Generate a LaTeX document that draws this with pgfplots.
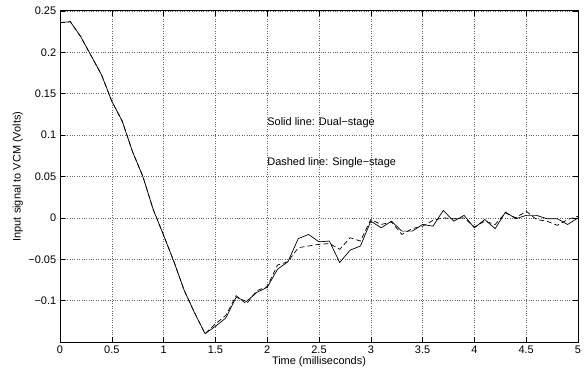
\documentclass[border=0pt]{standalone}
\usepackage{fontspec}
\setmainfont{Liberation Sans}
\usepackage{pgfplots}
\pgfplotsset{compat=1.18}
\usepackage{pgfplotstable}

\pgfplotstableread{
x y
0.0 0.236
0.1 0.237
0.2 0.219
0.3 0.196
0.4 0.173
0.5 0.141
0.6 0.117
0.7 0.080
0.8 0.050
0.9 0.010
1.0 -0.021
1.1 -0.053
1.2 -0.088
1.3 -0.115
1.4 -0.140
1.5 -0.131
1.6 -0.121
1.7 -0.096
1.8 -0.101
1.9 -0.090
2.0 -0.084
2.1 -0.062
2.2 -0.053
2.3 -0.025
2.4 -0.020
2.5 -0.029
2.6 -0.028
2.7 -0.054
2.8 -0.039
2.9 -0.034
3.0 -0.004
3.1 -0.012
3.2 -0.004
3.3 -0.016
3.4 -0.016
3.5 -0.008
3.6 -0.010
3.7 0.009
3.8 -0.004
3.9 0.003
4.0 -0.012
4.1 -0.002
4.2 -0.013
4.3 0.007
4.4 -0.001
4.5 0.003
4.6 0.003
4.7 -0.001
4.8 -0.001
4.9 -0.008
5.0 0.000
}\dualstage

\pgfplotstableread{
x y
0.0 0.236
0.1 0.237
0.2 0.219
0.3 0.196
0.4 0.173
0.5 0.141
0.6 0.117
0.7 0.080
0.8 0.050
0.9 0.010
1.0 -0.021
1.1 -0.053
1.2 -0.088
1.3 -0.115
1.4 -0.140
1.5 -0.128
1.6 -0.118
1.7 -0.094
1.8 -0.104
1.9 -0.088
2.0 -0.083
2.1 -0.057
2.2 -0.053
2.3 -0.036
2.4 -0.034
2.5 -0.032
2.6 -0.031
2.7 -0.038
2.8 -0.024
2.9 -0.028
3.0 -0.002
3.1 -0.008
3.2 -0.005
3.3 -0.020
3.4 -0.013
3.5 -0.010
3.6 -0.003
3.7 0.000
3.8 -0.001
3.9 0.000
4.0 -0.011
4.1 -0.004
4.2 -0.008
4.3 0.006
4.4 0.000
4.5 0.008
4.6 -0.002
4.7 -0.004
4.8 -0.009
4.9 -0.002
5.0 0.002
}\singlestage

\begin{document}
\fontsize{11}{13}\selectfont
\begin{tikzpicture}
\begin{axis}[
  name=ax,
  at={(0,0)}, anchor=south west,
  scale only axis,
  width=518bp, height=331bp,
  xmin=0, xmax=5, ymin=-0.15, ymax=0.25,
  xtick={0,0.5,...,5},
  xticklabels={0,0.5,1,1.5,2,2.5,3,3.5,4,4.5,5},
  ytick={-0.1,-0.05,0,0.05,0.1,0.15,0.2,0.25},
  yticklabels={−0.1,−0.05,0,0.05,0.1,0.15,0.2,0.25},
  tick align=inside,
  major tick length=5bp,
  tick style={black, line width=0.6bp},
  axis line style={black, line width=1bp},
  grid=major,
  major grid style={black!60, dotted, line width=0.6bp},
  ticklabel style={font=\fontsize{11}{13}\selectfont},
  label style={font=\fontsize{11}{13}\selectfont},
  xlabel={Time (milliseconds)},
  ylabel={Input signal to VCM (Volts)},
  xlabel style={yshift=5bp},
  ylabel style={yshift=-2bp},
  clip=true,
]
\addplot[black, line width=0.7bp, dash pattern=on 5bp off 3bp] table[x=x,y=y] {\singlestage};
\addplot[black, line width=0.7bp] table[x=x,y=y] {\dualstage};
\node[anchor=west, inner sep=0pt, font=\fontsize{11}{13}\selectfont] at (axis cs:2.0,0.115) {Solid line: Dual−stage};
\node[anchor=west, inner sep=0pt, font=\fontsize{11}{13}\selectfont] at (axis cs:2.0,0.0665) {Dashed line: Single−stage};
\end{axis}
\pgfresetboundingbox
\path[use as bounding box] ([xshift=-60bp,yshift=-25bp]ax.south west) rectangle ([xshift=7bp,yshift=11bp]ax.north east);
\end{tikzpicture}
\end{document}
